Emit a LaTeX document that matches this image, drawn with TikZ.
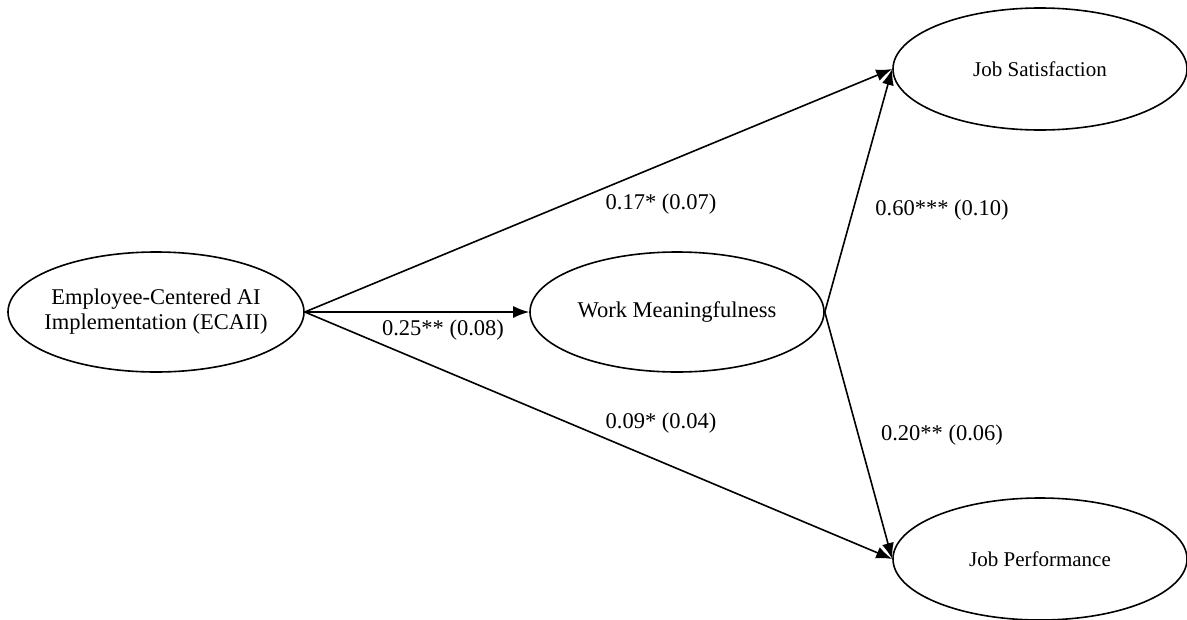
\documentclass[tikz,border=0pt]{standalone}
\usepackage{fontspec}
\setmainfont{Liberation Serif}
\usetikzlibrary{shapes.geometric,arrows.meta}
\begin{document}
\begin{tikzpicture}[x=1pt,y=-1pt,
  latent/.style={ellipse,draw,line width=1.6pt,inner sep=0pt,align=center,
    font=\fontsize{22.5}{25}\selectfont},
  outcome/.style={latent,font=\fontsize{21}{24}\selectfont},
  pathline/.style={line width=1.6pt,-{Latex[length=16pt,width=12pt]}},
  coef/.style={inner sep=0pt,font=\fontsize{22.5}{25}\selectfont}]
\useasboundingbox (0,0) rectangle (1187,619);
\node[latent,inner xsep=-7pt,minimum width=296pt,minimum height=120pt] (ecaii) at (156,312)
  {Employee-Centered AI\\Implementation (ECAII)};
\node[latent,minimum width=294pt,minimum height=120pt] (wm) at (677,312)
  {Work Meaningfulness};
\node[outcome,minimum width=294pt,minimum height=122pt] (js) at (1040,69)
  {Job Satisfaction};
\node[outcome,minimum width=294pt,minimum height=122pt] (jp) at (1040,559)
  {Job Performance};
\draw[pathline] (ecaii.east) -- (js.west);
\draw[pathline] (ecaii.east) -- (wm.west);
\draw[pathline] (ecaii.east) -- (jp.west);
\draw[pathline] (wm.east) -- (js.west);
\draw[pathline] (wm.east) -- (jp.west);
\node[coef] (c1) at (661,204) {0.17* (0.07)};
\node[coef] (c2) at (443,330) {0.25** (0.08)};
\node[coef] (c3) at (661,423) {0.09* (0.04)};
\node[coef] (c4) at (942,210) {0.60*** (0.10)};
\node[coef] (c5) at (942,435) {0.20** (0.06)};
\end{tikzpicture}
\end{document}
